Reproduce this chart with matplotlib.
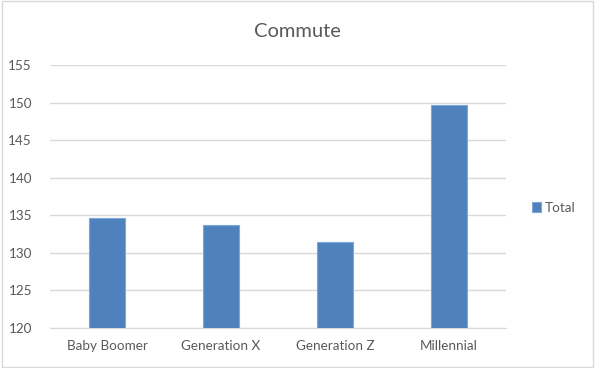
import matplotlib.pyplot as plt
import matplotlib
from matplotlib.patches import Rectangle

matplotlib.rcParams['font.family'] = ['Lato', 'DejaVu Sans']

# data
generations = ['Baby Boomer', 'Generation X', 'Generation Z', 'Millennial']
totals = [134.7, 133.7, 131.5, 149.7]
y_ticks = [120, 125, 130, 135, 140, 145, 150, 155]

fig = plt.figure(figsize=(5.95, 3.68), dpi=100)
ax = fig.add_axes([0.084, 0.109, 0.766, 0.714])

bars = ax.bar(generations, totals, width=0.32, color='#4f81bd',
              edgecolor='#7ea6d6', linewidth=0.8, label='Total', zorder=3)

ax.set_ylim(120, 155)
ax.set_xlim(-0.5, 3.5)
ax.set_yticks(y_ticks)
ax.yaxis.grid(True, color='#d9d9d9', linewidth=1)
ax.set_axisbelow(True)

for s in ['top', 'right', 'left']:
    ax.spines[s].set_visible(False)
ax.spines['bottom'].set_color('#d9d9d9')
ax.tick_params(axis='both', length=0, colors='#595959', labelsize=9.7)
ax.tick_params(axis='x', pad=9)
ax.tick_params(axis='y', pad=13)

fig.text(0.5, 0.915, 'Commute', ha='center', va='center',
         fontsize=14.5, color='#595959')

leg = fig.legend(loc='center left', bbox_to_anchor=(0.873, 0.435),
                 frameon=False, fontsize=9.7, handlelength=0.7,
                 handleheight=0.7, handletextpad=0.3)
for t in leg.get_texts():
    t.set_color('#595959')

# chart border
fig.patches.append(Rectangle((0.004, 0.004), 0.992, 0.992,
                             transform=fig.transFigure, fill=False,
                             edgecolor='#d9d9d9', linewidth=1))

plt.savefig('out.png', dpi=100, facecolor='white')
plt.close()
